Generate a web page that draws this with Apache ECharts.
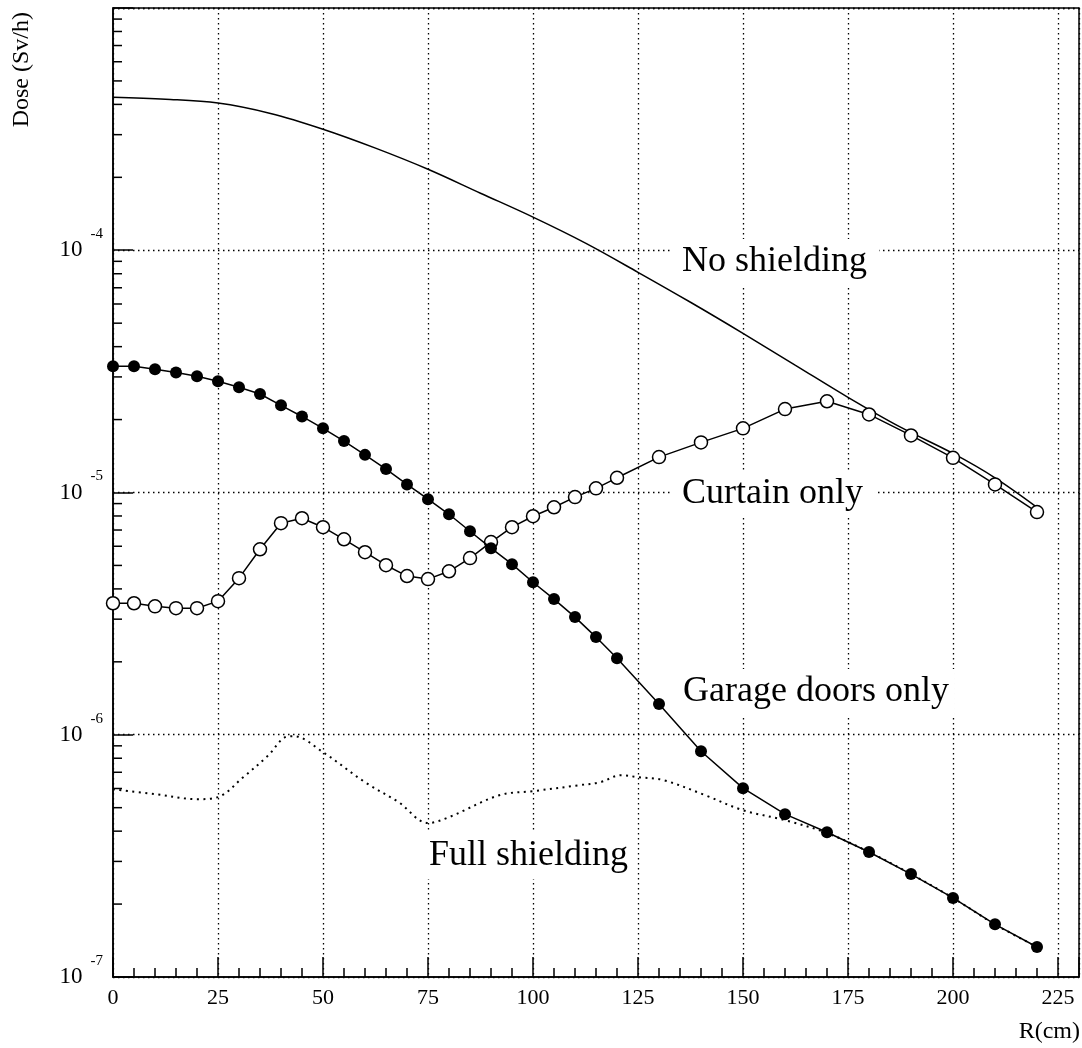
<!DOCTYPE html>
<html>
<head>
<meta charset="utf-8">
<script src="https://cdn.jsdelivr.net/npm/echarts@6/dist/echarts.min.js"></script>
<style>html,body{margin:0;padding:0;background:#fff}#c{width:1082px;height:1048px}</style>
</head>
<body>
<div id="c"></div>
<script>
// ---- data ----
const rNoShield = [0, 12.5, 25, 37.5, 50, 62.5, 75, 87.5, 100, 112.5, 125, 137.5, 150, 162.5, 175, 187.5, 200, 210, 220];
const doseNoShield = [4.28e-4, 4.20e-4, 4.05e-4, 3.67e-4, 3.16e-4, 2.64e-4, 2.16e-4, 1.72e-4, 1.37e-4, 1.07e-4, 8.11e-5, 6.10e-5, 4.54e-5, 3.35e-5, 2.47e-5, 1.86e-5, 1.45e-5, 1.15e-5, 8.69e-6];

const rPoints = [0,5,10,15,20,25,30,35,40,45,50,55,60,65,70,75,80,85,90,95,100,105,110,115,120,130,140,150,160,170,180,190,200,210,220];
const doseGarage = [3.32e-5,3.32e-5,3.23e-5,3.13e-5,3.02e-5,2.88e-5,2.72e-5,2.55e-5,2.29e-5,2.06e-5,1.84e-5,1.63e-5,1.43e-5,1.25e-5,1.08e-5,
  9.38e-6,8.13e-6,6.92e-6,5.89e-6,5.06e-6,4.26e-6,3.63e-6,3.06e-6,2.53e-6,2.07e-6,
  1.34e-6,8.55e-7,6.02e-7,4.70e-7,3.96e-7,3.28e-7,2.66e-7,2.12e-7,1.65e-7,1.33e-7];
const doseCurtain = [3.49e-6,3.49e-6,3.39e-6,3.33e-6,3.33e-6,3.56e-6,4.43e-6,5.83e-6,7.47e-6,7.83e-6,7.19e-6,6.41e-6,5.67e-6,5.01e-6,4.52e-6,
  4.39e-6,4.73e-6,5.36e-6,6.24e-6,7.19e-6,7.98e-6,8.69e-6,9.57e-6,1.04e-5,1.15e-5,
  1.40e-5,1.61e-5,1.84e-5,2.21e-5,2.38e-5,2.10e-5,1.72e-5,1.39e-5,1.08e-5,8.30e-6];

const rFull = [0,10,20,25,31,37,41,43,50,60,68,75,80,92,100,111,116,121,125,131,141,150,160,170,180,190,200,210,220];
const doseFull = [5.96e-7,5.69e-7,5.42e-7,5.53e-7,6.68e-7,8.23e-7,9.77e-7,9.87e-7,8.47e-7,6.37e-7,5.27e-7,4.32e-7,4.57e-7,5.63e-7,5.85e-7,
  6.19e-7,6.37e-7,6.81e-7,6.68e-7,6.50e-7,5.63e-7,4.88e-7,4.44e-7,3.93e-7,3.28e-7,2.66e-7,2.12e-7,1.65e-7,1.33e-7];

const yDecades = [1e-7, 1e-6, 1e-5, 1e-4];
const minorMultipliers = [2,3,4,5,6,7,8,9];

const labelNo = 'No shielding';
const labelCurtain = 'Curtain only';
const labelGarage = 'Garage doors only';
const labelFull = 'Full shielding';
const xTitle = 'R(cm)';
const yTitle = 'Dose (Sv/h)';

// ---- build ----
const FONT = "'Liberation Serif', 'Times New Roman', serif";
const zip = (a, b) => a.map((v, i) => [v, b[i]]);
const minorTicks = [];
yDecades.forEach(d => minorMultipliers.forEach(m => minorTicks.push([0, m * d])));

const gridDots = { color: '#000', width: 1.3, type: [1.5, 3.5] };

const chart = echarts.init(document.getElementById('c'));
chart.setOption({
  animation: false,
  backgroundColor: '#fff',
  grid: { left: 113, top: 8, right: 3, bottom: 71, show: true, borderColor: '#000', borderWidth: 1.5, backgroundColor: 'transparent' },
  xAxis: {
    type: 'value', min: 0, max: 230, interval: 25,
    axisLine: { show: true, lineStyle: { color: '#000', width: 1.5 } },
    axisTick: { show: true, inside: true, length: 20, lineStyle: { color: '#000', width: 1.5 } },
    minorTick: { show: true, splitNumber: 5, length: 9, lineStyle: { color: '#000', width: 1.5 } },
    axisLabel: { color: '#000', fontFamily: FONT, fontSize: 22, margin: 10,
      formatter: v => (v % 25 === 0 ? String(v) : '') },
    splitLine: { show: true, lineStyle: gridDots }
  },
  yAxis: {
    type: 'log', logBase: 10, min: 1e-7, max: 1e-3,
    axisLine: { show: true, lineStyle: { color: '#000', width: 1.5 } },
    axisTick: { show: true, inside: true, length: 20, lineStyle: { color: '#000', width: 1.5 } },
    axisLabel: {
      color: '#000', fontFamily: FONT, margin: 10,
      formatter: v => { const e = Math.round(Math.log10(v)); return e > -4 ? '' : '{b|10}{s|' + e + '}'; },
      rich: {
        b: { fontSize: 23, fontFamily: FONT, color: '#000' },
        s: { fontSize: 15, fontFamily: FONT, color: '#000', padding: [0, 0, 32, 8] }
      }
    },
    splitLine: { show: true, lineStyle: gridDots }
  },
  graphic: [
    { type: 'text', z: 1, x: 22, y: 12, rotation: Math.PI / 2,
      style: { text: yTitle, align: 'right', verticalAlign: 'middle', font: '24px ' + FONT, fill: '#000' } },
    { type: 'text', z: 1, x: 1080, y: 1032,
      style: { text: xTitle, align: 'right', verticalAlign: 'middle', font: '24px ' + FONT, fill: '#000' } },
    { type: 'text', z: 1, x: 670, y: 262,
      style: { text: labelNo, align: 'left', verticalAlign: 'middle', font: '36px ' + FONT, fill: '#000', backgroundColor: '#fff', padding: [5, 12] } },
    { type: 'text', z: 1, x: 670, y: 494,
      style: { text: labelCurtain, align: 'left', verticalAlign: 'middle', font: '36px ' + FONT, fill: '#000', backgroundColor: '#fff', padding: [5, 12] } },
    { type: 'text', z: 1, x: 674, y: 692,
      style: { text: labelGarage, align: 'left', verticalAlign: 'middle', font: '36px ' + FONT, fill: '#000', backgroundColor: '#fff', padding: [5, 6, 5, 9] } },
    { type: 'text', z: 1, x: 420, y: 856,
      style: { text: labelFull, align: 'left', verticalAlign: 'middle', font: '36px ' + FONT, fill: '#000', backgroundColor: '#fff', padding: [5, 9] } }
  ],
  series: [
    {
      type: 'custom', name: 'minorY', silent: true, clip: false, z: 3,
      data: minorTicks,
      renderItem: (params, api) => {
        const p = api.coord([api.value(0), api.value(1)]);
        return { type: 'line', shape: { x1: p[0], y1: p[1], x2: p[0] + 9, y2: p[1] }, style: { stroke: '#000', lineWidth: 1.5 } };
      }
    },
    {
      type: 'line', name: labelNo, data: zip(rNoShield, doseNoShield), smooth: 0.35, showSymbol: false, symbol: 'none',
      lineStyle: { color: '#000', width: 1.5 }, z: 2, silent: true
    },
    {
      type: 'line', name: labelFull, data: zip(rFull, doseFull), smooth: 0.35, showSymbol: false, symbol: 'none',
      lineStyle: { color: '#000', width: 2, type: [2, 4.5] }, z: 2, silent: true
    },
    {
      type: 'line', name: labelCurtain, data: zip(rPoints, doseCurtain), symbol: 'circle', symbolSize: 13,
      lineStyle: { color: '#000', width: 1.5 }, itemStyle: { color: '#fff', borderColor: '#000', borderWidth: 1.5 }, z: 4, silent: true
    },
    {
      type: 'line', name: labelGarage, data: zip(rPoints, doseGarage), symbol: 'circle', symbolSize: 12,
      lineStyle: { color: '#000', width: 1.5 }, itemStyle: { color: '#000', borderColor: '#000', borderWidth: 0 }, z: 5, silent: true
    }
  ]
});
</script>
</body>
</html>
